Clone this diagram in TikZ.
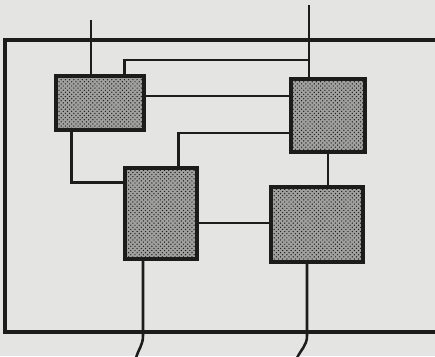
\documentclass[tikz,border=0pt]{standalone}
\usepackage{xcolor}
\usepackage{tikz}
\usetikzlibrary{patterns, calc}

\definecolor{paper}{RGB}{228,228,226}
\definecolor{ink}{RGB}{28,28,28}
\definecolor{shade}{RGB}{160,160,158}

\begin{document}
\begin{tikzpicture}[
  x=0.025cm, y=-0.025cm,
  module/.style={draw=ink, rectangle, line width=2.5pt, fill=shade, postaction={pattern=crosshatch dots, pattern color=ink}, inner sep=0pt},
  frame/.style={draw=ink, line width=2.9pt},
  link/.style={draw=ink, line width=1.8pt}
]
\fill[paper] (0,0) rectangle (435,356);
\useasboundingbox (0,0) rectangle (435,356);
\clip (0,0) rectangle (435,356);

\draw[frame] (5,40) rectangle (445,332);

\node[module, minimum width=2.2cm, minimum height=1.35cm] (boxA) at (100,103) {};
\node[module, minimum width=1.85cm, minimum height=1.825cm] (boxB) at (328,115.5) {};
\node[module, minimum width=1.8cm, minimum height=2.275cm] (boxC) at (161,213.5) {};
\node[module, minimum width=2.3cm, minimum height=1.875cm] (boxD) at (317,224.5) {};

\coordinate (inA) at (91,20);
\coordinate (inB) at (309,5);
\coordinate (jB) at (309,60);
\coordinate (outC) at (143,336);
\coordinate (endC) at (136,358);
\coordinate (outD) at (307,336);
\coordinate (endD) at (297,358);

\draw[link] (inA) -- (inA |- boxA.north);
\draw[link] (inB) -- (inB |- boxB.north);
\draw[link] ([xshift=1.75cm]boxA.north west) |- (jB);
\draw[link] ([yshift=0.175cm]boxA.east) -- ([yshift=0.175cm]boxA.east -| boxB.west);
\draw[link] ([yshift=-0.4375cm]boxB.west) -| ([xshift=1.375cm]boxC.north west);
\draw[link] ([xshift=0.425cm]boxA.south west) |- ([yshift=-0.4cm]boxC.north west);
\draw[link] (boxB.south) -- (boxB.south |- boxD.north);
\draw[link] ([yshift=-0.2375cm]boxC.east) -- ([yshift=-0.2375cm]boxC.east -| boxD.west);
\draw[link] (outC |- boxC.south) -- (outC) to[out=-90, in=75] (endC);
\draw[link] (outD |- boxD.south) -- (outD) to[out=-90, in=65] (endD);
\end{tikzpicture}
\end{document}
